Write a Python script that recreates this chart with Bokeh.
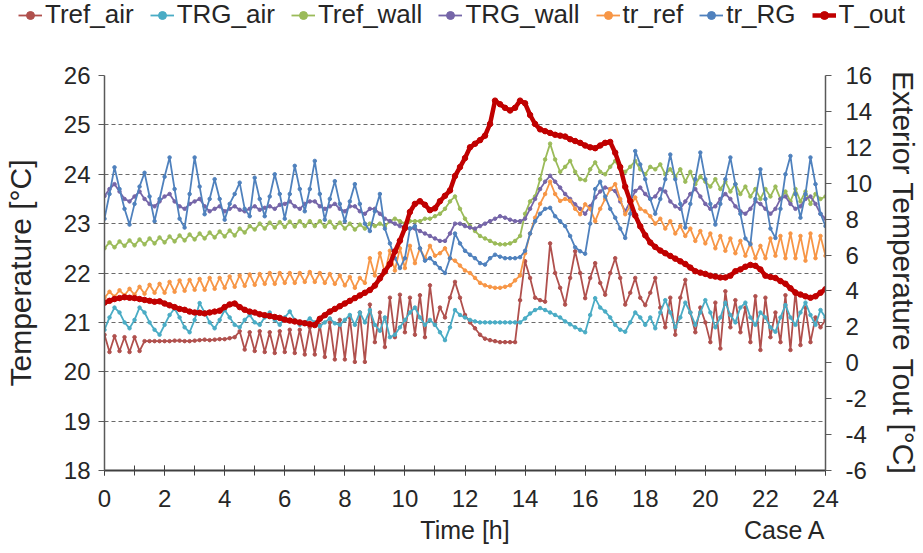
from bokeh.plotting import figure
from bokeh.models import Range1d, LinearAxis, FixedTicker, Legend, LegendItem
from bokeh.embed import file_html
from bokeh.resources import INLINE

# time stamps every 10 minutes
minutes = list(range(0, 1441, 10))
hours = [m / 60 for m in minutes]

tref_air = [
    20.75, 20.4, 20.72, 20.42, 20.7, 20.4,
    20.7, 20.42, 20.62, 20.62, 20.62, 20.62,
    20.62, 20.62, 20.63, 20.63, 20.62, 20.62,
    20.63, 20.64, 20.65, 20.64, 20.65, 20.66,
    20.66, 20.68, 20.7, 20.82, 20.45, 20.8,
    20.42, 20.82, 20.4, 20.8, 20.38, 20.82,
    20.4, 20.85, 20.38, 20.85, 20.35, 20.9,
    20.35, 20.95, 20.3, 21.0, 20.25, 21.05,
    20.25, 21.1, 20.2, 21.2, 20.2, 21.36,
    20.6, 21.2, 20.5, 21.5, 20.7, 21.56,
    20.8, 21.5, 20.75, 21.55, 20.7, 21.75,
    20.95, 21.3, 21.1, 21.5, 21.82, 21.5,
    21.15, 21.0, 20.88, 20.75, 20.67, 20.64,
    20.62, 20.6, 20.6, 20.6, 20.6, 21.45,
    22.24, 21.9, 21.5, 21.45, 21.42, 22.6,
    22.0, 21.7, 21.36, 21.9, 22.44, 22.0,
    21.49, 21.9, 22.2, 21.8, 21.56, 22.0,
    22.3, 21.9, 21.36, 21.6, 21.9, 21.5,
    21.35, 21.6, 21.9, 21.3, 20.9, 21.5,
    20.75, 21.5, 21.86, 21.2, 20.8, 21.3,
    21.0, 20.6, 21.4, 20.47, 21.63, 20.9,
    21.45, 20.8, 21.3, 20.6, 21.53, 20.44,
    21.5, 20.7, 21.2, 20.6, 21.55, 20.44,
    21.63, 20.54, 21.3, 20.6, 21.1, 20.9,
    21.05,
]

trg_air = [
    20.85, 21.1, 21.3, 21.2, 21.0, 20.88,
    21.05, 21.3, 21.2, 21.0, 20.85, 20.75,
    20.95, 21.15, 21.28, 21.1, 20.9, 20.8,
    21.05, 21.39, 21.2, 21.0, 20.88, 21.05,
    21.25, 21.1, 20.95, 20.9, 21.05, 21.15,
    21.0, 20.95, 21.1, 21.2, 21.05, 20.95,
    21.1, 21.22, 21.05, 20.95, 21.0, 21.08,
    21.0, 20.92, 21.0, 21.08, 20.98, 20.95,
    21.05, 21.15, 20.95, 21.2, 21.0, 21.25,
    20.95, 20.83, 21.1, 20.7, 20.75, 20.9,
    21.05, 21.2, 21.3, 21.1, 20.95, 21.05,
    20.95, 20.8, 20.64, 20.9, 21.25, 21.15,
    21.1, 21.05, 21.02, 21.0, 21.0, 21.0,
    21.0, 21.0, 21.0, 21.0, 21.0, 21.0,
    21.08, 21.18, 21.25, 21.29, 21.25, 21.2,
    21.15, 21.1, 21.02, 20.96, 20.9, 20.85,
    20.8, 21.15, 21.49, 21.3, 21.22, 21.1,
    20.95, 20.85, 20.81, 21.0, 21.2, 21.1,
    20.95, 21.1, 20.88, 21.2, 21.45, 21.2,
    20.9, 21.1, 21.4, 21.2, 20.95, 21.2,
    21.45, 21.2, 20.9, 21.1, 21.4, 21.15,
    21.0, 21.3, 21.4, 21.1, 20.95, 21.2,
    21.1, 20.9, 20.81, 21.1, 21.35, 21.1,
    20.95, 21.2, 21.4, 21.15, 20.95, 21.25,
    21.1,
]

tref_wall = [
    22.5, 22.62, 22.52, 22.64, 22.55, 22.66,
    22.56, 22.68, 22.58, 22.7, 22.6, 22.72,
    22.62, 22.74, 22.64, 22.76, 22.66, 22.78,
    22.68, 22.8, 22.7, 22.82, 22.72, 22.84,
    22.74, 22.86, 22.76, 22.9, 22.82, 22.95,
    22.88, 23.0, 22.9, 23.02, 22.92, 23.03,
    22.93, 23.04, 22.94, 23.05, 22.95, 23.05,
    22.95, 23.05, 22.94, 23.04, 22.92, 23.02,
    22.9, 23.0, 22.88, 22.98, 22.9, 23.0,
    22.95, 23.0, 22.95, 23.05, 23.1, 23.05,
    23.0, 23.05, 23.05, 23.05, 23.1, 23.1,
    23.15, 23.2, 23.3, 23.45, 23.55, 23.3,
    23.1, 22.95, 22.85, 22.75, 22.7, 22.65,
    22.6, 22.58, 22.58, 22.6, 22.65, 22.75,
    23.2, 23.45, 23.55, 23.9, 24.3, 24.62,
    24.3, 24.05, 24.15, 24.27, 24.05, 23.9,
    23.88, 24.1, 24.24, 24.05, 24.0, 24.15,
    24.27, 24.1, 24.05, 24.15, 24.27, 24.1,
    24.0, 24.15, 24.1, 24.2, 24.0, 24.1,
    23.95, 24.1, 23.85, 24.05, 23.8, 23.95,
    23.85, 23.75, 23.9, 23.7, 23.85, 23.65,
    23.8, 23.6, 23.75, 23.55, 23.7, 23.5,
    23.7, 23.55, 23.75, 23.5, 23.65, 23.45,
    23.7, 23.45, 23.65, 23.4, 23.6, 23.5,
    23.55,
]

trg_wall = [
    23.56, 23.7, 23.8, 23.65, 23.5, 23.45,
    23.55, 23.65, 23.5, 23.4, 23.35, 23.45,
    23.55, 23.6, 23.45, 23.35, 23.3, 23.4,
    23.45, 23.5, 23.35, 23.25, 23.3, 23.35,
    23.25, 23.3, 23.35, 23.28, 23.25, 23.3,
    23.35, 23.28, 23.32, 23.35, 23.3, 23.38,
    23.4, 23.45, 23.35, 23.3, 23.4, 23.45,
    23.45, 23.35, 23.3, 23.35, 23.4, 23.3,
    23.25, 23.35, 23.35, 23.25, 23.2, 23.3,
    23.3, 23.2, 23.1, 23.05, 23.0, 22.95,
    22.95, 22.9, 22.9, 22.85, 22.8, 22.75,
    22.7, 22.65, 22.65, 22.8, 23.0, 23.0,
    22.95, 22.92, 22.9, 22.95, 23.0, 23.05,
    23.1, 23.15, 23.12, 23.08, 23.05, 23.05,
    23.1, 23.3, 23.5, 23.7, 23.85, 23.97,
    23.85, 23.73, 23.6, 23.5, 23.39, 23.3,
    23.2, 23.35, 23.53, 23.65, 23.73, 23.7,
    23.66, 23.45, 23.25, 23.45, 23.66, 23.73,
    23.6, 23.5, 23.55, 23.7, 23.65, 23.45,
    23.35, 23.3, 23.45, 23.6, 23.7, 23.55,
    23.4, 23.3, 23.35, 23.5, 23.6, 23.5,
    23.35, 23.25, 23.2, 23.3, 23.45, 23.4,
    23.3, 23.2, 23.3, 23.5, 23.55, 23.4,
    23.3, 23.35, 23.5, 23.55, 23.4, 23.2,
    23.1,
]

tr_ref = [
    21.5, 21.62, 21.52, 21.65, 21.55, 21.68,
    21.56, 21.72, 21.58, 21.76, 21.6, 21.78,
    21.6, 21.82, 21.62, 21.85, 21.64, 21.86,
    21.66, 21.88, 21.66, 21.9, 21.68, 21.9,
    21.7, 21.93, 21.72, 21.95, 21.74, 21.97,
    21.76, 21.98, 21.78, 22.0, 21.78, 22.0,
    21.8, 22.0, 21.8, 22.0, 21.82, 22.02,
    21.82, 22.0, 21.8, 21.98, 21.78, 21.95,
    21.75, 21.92, 21.7, 21.9, 21.8, 22.3,
    21.95, 22.4, 22.0, 22.45, 22.05, 22.5,
    22.1, 22.55, 22.2, 22.5, 22.3, 22.55,
    22.35, 22.4, 22.5, 22.3, 22.25, 22.15,
    22.05, 22.0, 21.9, 21.8, 21.75, 21.72,
    21.7, 21.7, 21.72, 21.75, 21.85, 21.95,
    22.4, 22.8, 23.12, 23.4, 23.6, 23.85,
    23.6, 23.46, 23.5, 23.46, 23.3, 23.19,
    23.39, 23.3, 23.05, 23.3, 23.5, 23.7,
    23.8, 23.5, 23.19, 23.35, 23.53, 23.3,
    23.25, 23.15, 23.0, 23.1, 22.9, 23.05,
    22.8, 22.95, 22.75, 22.9, 22.65, 22.85,
    22.6, 22.8, 22.5, 22.75, 22.45, 22.7,
    22.4, 22.65, 22.35, 22.6, 22.3, 22.55,
    22.3, 22.7, 22.35, 22.75, 22.3, 22.8,
    22.3, 22.75, 22.25, 22.8, 22.3, 22.75,
    22.35,
]

tr_rg = [
    23.1, 23.6, 24.14, 23.7, 23.3, 22.98,
    23.4, 23.75, 24.03, 23.55, 23.05, 23.5,
    23.95, 24.34, 23.7, 23.1, 22.92, 23.6,
    24.34, 23.75, 23.19, 23.5, 23.9, 23.5,
    23.08, 23.4, 23.6, 23.83, 23.3, 23.15,
    23.93, 23.5, 23.15, 23.55, 24.0, 23.6,
    23.1, 23.6, 24.17, 23.7, 23.25, 23.7,
    24.27, 23.6, 23.08, 23.5, 23.86, 23.4,
    23.05, 23.45, 23.8, 23.4, 23.0, 22.85,
    23.25, 23.6, 22.9, 22.6, 22.3, 22.1,
    22.3, 22.9, 22.95, 22.5, 22.25, 22.3,
    22.2, 22.1, 22.0, 22.3, 22.8, 22.6,
    22.45, 22.37, 22.3, 22.2, 22.17, 22.3,
    22.37, 22.33, 22.3, 22.3, 22.3, 22.32,
    22.45, 22.8, 23.05, 23.2, 23.3, 23.32,
    23.15, 23.05, 22.95, 22.75, 22.52, 22.44,
    22.39, 23.0, 23.7, 23.85, 23.55, 23.3,
    23.12, 22.9, 22.71, 23.2, 24.47, 24.2,
    23.9, 23.5, 23.2, 23.5, 23.9, 24.4,
    23.9, 23.4, 22.92, 23.4, 23.9, 24.44,
    23.9, 23.4, 22.98, 23.4, 23.9, 24.34,
    23.8, 23.2, 22.7, 22.58, 23.5, 24.1,
    23.5, 22.9, 22.71, 23.3, 24.0, 24.37,
    23.6, 23.12, 23.6, 24.34, 23.8, 23.2,
    22.95,
]

t_out = [
    3.35, 3.45, 3.55, 3.6, 3.65, 3.62,
    3.6, 3.55, 3.5, 3.45, 3.4, 3.42,
    3.3, 3.2, 3.1, 3.0, 2.95, 2.85,
    2.8, 2.78, 2.75, 2.8, 2.85, 2.9,
    3.1, 3.25, 3.3, 3.1, 2.95, 2.85,
    2.8, 2.7, 2.65, 2.6, 2.55, 2.5,
    2.4, 2.35, 2.3, 2.25, 2.2, 2.15,
    2.1, 2.45, 2.65, 2.85, 3.0, 3.15,
    3.3, 3.45, 3.6, 3.75, 3.9, 4.05,
    4.3, 4.7, 5.1, 5.5, 6.2, 6.8,
    7.5, 8.4, 8.85, 9.0, 8.8, 8.5,
    8.6, 9.0, 9.3, 9.6, 10.4, 10.9,
    11.4, 12.0, 12.2, 12.4, 12.65, 13.3,
    14.6, 14.4, 14.2, 14.05, 14.2, 14.6,
    14.45, 13.8, 13.3, 13.0, 12.9, 12.8,
    12.7, 12.65, 12.6, 12.45, 12.35, 12.25,
    12.1, 12.0, 11.95, 12.1, 12.25, 12.3,
    11.7, 10.9, 9.8, 9.0, 8.2, 7.6,
    7.1, 6.7, 6.45, 6.25, 6.1, 5.95,
    5.8, 5.65, 5.5, 5.3, 5.1, 5.02,
    4.95, 4.85, 4.8, 4.75, 4.75, 4.85,
    5.1, 5.2, 5.35, 5.45, 5.4, 5.2,
    4.85, 4.78, 4.72, 4.55, 4.4, 4.15,
    3.9, 3.8, 3.7, 3.62, 3.7, 3.9,
    4.1,
]

x_ticks = list(range(0, 25, 2))
x_minor = list(range(0, 25))
left_ticks = list(range(18, 27))
right_ticks = list(range(-6, 17, 2))
bottom_texts = {12: "Time [h]", 22.65: "Case A"}

FONT = "Liberation Sans"
TXT = "#262626"

series = [
    ("Tref_air", tref_air, "#B0504D", 1.8, "default"),
    ("TRG_air", trg_air, "#4AACC5", 1.8, "default"),
    ("Tref_wall", tref_wall, "#9BBB59", 1.8, "default"),
    ("TRG_wall", trg_wall, "#7565A8", 1.8, "default"),
    ("tr_ref", tr_ref, "#F79646", 1.8, "default"),
    ("tr_RG", tr_rg, "#4F81BD", 1.8, "default"),
    ("T_out", t_out, "#C00000", 4.5, "right"),
]

LEG_H = 40

# ---------------- main chart ----------------
p = figure(width=923, height=553 - LEG_H, output_backend="svg", toolbar_location=None,
           x_range=Range1d(0, 24), y_range=Range1d(18, 26),
           min_border_left=104, min_border_right=95, min_border_top=75 - LEG_H,
           min_border_bottom=83)
p.title = None
p.extra_y_ranges = {"right": Range1d(-6, 16)}
p.outline_line_color = None
p.background_fill_color = "white"
p.border_fill_color = "white"

p.xgrid.visible = False
p.ygrid.grid_line_color = "#6a6a6a"
p.ygrid.grid_line_dash = "4 3"
p.ygrid.grid_line_width = 1
p.ygrid.ticker = FixedTicker(ticks=left_ticks)

xa = p.xaxis[0]
xa.ticker = FixedTicker(ticks=x_ticks, minor_ticks=x_minor)
xa.axis_line_color = "#404040"
xa.axis_line_width = 2
xa.major_tick_line_color = "#404040"
xa.minor_tick_line_color = "#404040"
xa.major_tick_in = 5
xa.major_tick_out = 5
xa.minor_tick_in = 5
xa.minor_tick_out = 5
xa.major_label_standoff = 14

# row of titles below the x axis (Time [h] and Case A)
xb = LinearAxis(ticker=FixedTicker(ticks=list(bottom_texts.keys())),
                major_label_overrides=bottom_texts)
xb.axis_line_color = None
xb.major_tick_line_color = None
xb.minor_tick_line_color = None
xb.major_tick_in = 0
xb.major_tick_out = 0
xb.major_label_standoff = 6
p.add_layout(xb, "below")

ya = p.yaxis[0]
ya.ticker = FixedTicker(ticks=left_ticks)
ya.axis_label = "Temperature [°C]"
ya.axis_line_color = "#595959"
ya.axis_line_width = 1.5
ya.major_tick_line_color = "#595959"
ya.major_tick_in = 0
ya.major_tick_out = 6
ya.minor_tick_line_color = None
ya.major_label_standoff = 8
ya.axis_label_standoff = 24

ra = LinearAxis(y_range_name="right", ticker=FixedTicker(ticks=right_ticks),
                axis_label="Exterior Temperature Tout [°C]",
                major_label_overrides={-6: "-6", -4: "-4", -2: "-2"})
ra.axis_line_color = "#595959"
ra.axis_line_width = 1.5
ra.major_tick_line_color = "#595959"
ra.major_tick_in = 0
ra.major_tick_out = 6
ra.minor_tick_line_color = None
ra.major_label_standoff = 14
ra.axis_label_standoff = 12
p.add_layout(ra, "right")

for ax in (xa, xb, ya, ra):
    ax.major_label_text_font = FONT
    ax.major_label_text_font_size = "24px"
    ax.major_label_text_color = TXT
    ax.axis_label_text_font = FONT
    ax.axis_label_text_font_size = "30px"
    ax.axis_label_text_font_style = "normal"
    ax.axis_label_text_color = TXT
xb.major_label_text_font_size = "25px"

for name, vals, color, lw, rng in series:
    big = rng == "right"
    p.line(hours, vals, line_color=color, line_width=lw, y_range_name=rng)
    p.scatter(hours, vals, size=5.5 if big else 3.5, fill_color=color,
              line_color=color, y_range_name=rng)

# ---------------- legend row (separate root, full-width frame) ----------------
lg = figure(width=923, height=LEG_H, output_backend="svg", toolbar_location=None,
            x_range=Range1d(-100, -99), y_range=Range1d(-100, -99),
            x_axis_location=None, y_axis_location=None,
            min_border_left=0, min_border_right=0, min_border_top=0, min_border_bottom=0)
lg.title = None
lg.outline_line_color = None
lg.xgrid.visible = False
lg.ygrid.visible = False
lg.extra_y_ranges = {"right": Range1d(-100, -99)}
items = []
for name, vals, color, lw, rng in series:
    big = rng == "right"
    r1 = lg.line(hours, vals, line_color=color, line_width=lw, y_range_name=rng)
    r2 = lg.scatter(hours, vals, size=5.5 if big else 3.5, fill_color=color,
                    line_color=color, y_range_name=rng)
    items.append(LegendItem(label=name, renderers=[r1, r2]))

legend = Legend(items=items, orientation="horizontal", location=(18, 10),
                label_text_font=FONT, label_text_font_size="26px",
                label_text_color=TXT, glyph_width=24, glyph_height=20,
                label_standoff=3, spacing=16, padding=0, margin=0,
                border_line_color=None, background_fill_alpha=0)
lg.add_layout(legend)

open("out.html", "w").write(file_html([lg, p], INLINE))
